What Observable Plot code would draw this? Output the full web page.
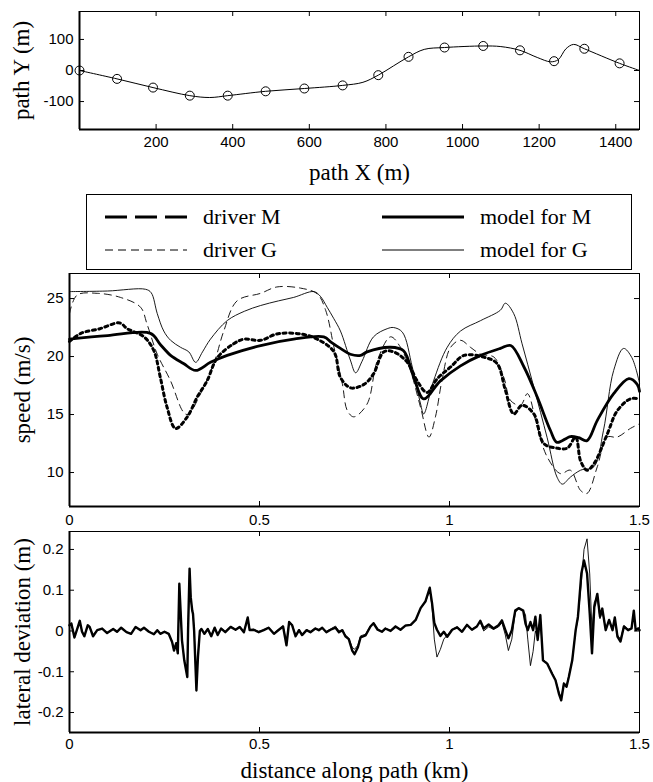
<!DOCTYPE html>
<html><head><meta charset="utf-8">
<script src="https://cdn.jsdelivr.net/npm/d3@7"></script>
<script src="https://cdn.jsdelivr.net/npm/@observablehq/plot@0.6"></script>
<style>
body{margin:0;background:#fff;}
#chart{position:relative;width:653px;height:782px;overflow:hidden;background:#fff;}
#chart svg.panel{position:absolute;left:0;overflow:visible;background:transparent;}
#legend{position:absolute;left:86px;top:194px;width:546px;height:76px;border:1px solid #000;box-sizing:border-box;font-family:'Liberation Serif','Times New Roman',serif;font-size:22px;}
#legend .item{position:absolute;display:flex;align-items:center;height:26px;}
#legend svg{display:block;}
</style></head><body><div id="chart"><div id="legend"></div></div>
<script>
// ---- top panel: path geometry ----
const pathX = [0, 98, 192, 288, 340, 387, 486, 587, 687, 740, 780, 820, 859, 900, 953, 1054, 1100, 1150, 1195, 1230, 1250, 1270, 1290, 1318, 1410, 1462];
const pathY = [0, -27, -55, -81, -87, -81, -67, -58, -48, -38, -15, 15, 44, 68, 74, 79, 77, 65, 42, 28, 35, 70, 84, 70, 23, 0];
const markX = [0, 98, 192, 288, 387, 486, 587, 687, 780, 859, 953, 1054, 1150, 1239, 1318, 1410];
const markY = [0, -27, -55, -81, -81, -67, -58, -48, -15, 44, 74, 79, 65, 30, 70, 23];
const pathXTicks = [200, 400, 600, 800, 1000, 1200, 1400];
const pathYTicks = [-100, 0, 100];

// ---- middle panel: speed ----
const distTicks = [0, 0.5, 1, 1.5];
const speedTicks = [10, 15, 20, 25];
const driverMX = [0, 0.03, 0.08, 0.132, 0.152, 0.196, 0.222, 0.239, 0.257, 0.279, 0.31, 0.336, 0.362, 0.389, 0.432, 0.459, 0.503, 0.546, 0.608, 0.652, 0.696, 0.713, 0.74, 0.775, 0.80, 0.827, 0.853, 0.889, 0.915, 0.941, 0.968, 1.003, 1.038, 1.09, 1.125, 1.147, 1.169, 1.191, 1.222, 1.248, 1.283, 1.31, 1.332, 1.345, 1.362, 1.38, 1.415, 1.441, 1.476, 1.5];
const driverMV = [21.3, 22.0, 22.4, 22.9, 22.4, 21.7, 20.5, 18.2, 15.6, 13.8, 14.8, 16.5, 17.9, 19.9, 21.1, 21.5, 21.4, 21.95, 21.95, 21.5, 20.4, 18.2, 17.3, 17.6, 18.5, 20.4, 20.4, 19.5, 17.9, 16.9, 18.1, 19.1, 20.1, 19.95, 19.4, 17.1, 15.05, 15.8, 15.05, 12.5, 12.1, 12.1, 13.05, 11.0, 10.2, 10.75, 13.3, 15.3, 16.35, 16.35];
const driverGX = [0, 0.02, 0.073, 0.134, 0.187, 0.204, 0.231, 0.266, 0.30, 0.312, 0.345, 0.38, 0.406, 0.441, 0.503, 0.546, 0.608, 0.652, 0.674, 0.696, 0.718, 0.731, 0.748, 0.783, 0.81, 0.845, 0.871, 0.897, 0.924, 0.946, 0.963, 0.98, 1.003, 1.029, 1.055, 1.082, 1.117, 1.143, 1.161, 1.187, 1.205, 1.231, 1.257, 1.292, 1.318, 1.345, 1.362, 1.389, 1.415, 1.441, 1.476, 1.5];
const driverGV = [23.7, 25.3, 25.45, 25.1, 24.25, 22.8, 20.2, 17.9, 15.2, 15.0, 16.8, 19.4, 22.2, 24.8, 25.45, 26.0, 25.9, 25.4, 24.0, 20.8, 17.65, 15.35, 14.8, 15.9, 19.65, 21.7, 20.8, 18.8, 15.6, 13.05, 14.8, 17.9, 20.8, 21.4, 20.8, 20.2, 19.95, 18.2, 16.2, 15.8, 16.8, 13.9, 11.35, 9.9, 10.2, 8.45, 8.2, 10.5, 13.05, 13.05, 13.8, 14.2];
const modelMX = [0, 0.1, 0.213, 0.24, 0.266, 0.30, 0.332, 0.371, 0.415, 0.503, 0.59, 0.669, 0.69, 0.713, 0.739, 0.766, 0.783, 0.845, 0.879, 0.906, 0.932, 0.976, 1.029, 1.082, 1.134, 1.161, 1.196, 1.231, 1.266, 1.283, 1.318, 1.34, 1.362, 1.389, 1.432, 1.472, 1.494, 1.5];
const modelMV = [21.5, 21.8, 22.0, 21.0, 20.1, 19.4, 18.8, 19.5, 20.1, 20.95, 21.5, 21.7, 21.2, 20.7, 20.2, 20.1, 20.4, 20.8, 20.5, 18.2, 16.35, 17.9, 19.2, 20.1, 20.7, 20.95, 19.1, 16.5, 13.6, 12.6, 13.1, 13.0, 12.75, 14.5, 16.8, 18.1, 17.6, 17.0];
const modelGX = [0, 0.1, 0.2, 0.215, 0.231, 0.248, 0.266, 0.292, 0.314, 0.332, 0.35, 0.371, 0.415, 0.46, 0.503, 0.55, 0.59, 0.643, 0.66, 0.678, 0.695, 0.713, 0.739, 0.753, 0.77, 0.80, 0.836, 0.853, 0.876, 0.902, 0.924, 0.932, 0.958, 0.994, 1.029, 1.082, 1.134, 1.147, 1.169, 1.191, 1.222, 1.257, 1.283, 1.297, 1.318, 1.345, 1.38, 1.405, 1.432, 1.458, 1.48, 1.5];
const modelGV = [25.6, 25.65, 25.8, 25.5, 23.7, 22.2, 21.4, 20.8, 20.4, 19.5, 20.4, 21.5, 23.1, 23.9, 24.4, 24.8, 25.1, 25.6, 25.2, 24.25, 23.3, 22.2, 19.7, 18.6, 19.6, 21.7, 22.4, 22.5, 22.1, 19.1, 15.9, 15.05, 17.9, 20.8, 22.2, 23.1, 24.0, 24.6, 23.7, 21.1, 17.35, 13.0, 9.6, 9.0, 9.6, 10.2, 10.5, 13.6, 18.8, 20.7, 19.9, 17.7];
const legendLabels = ["driver M", "driver G", "model for M", "model for G"];

// ---- bottom panel: lateral deviation ----
const latTicks = [-0.2, -0.1, 0, 0.1, 0.2];
const latX = [0, 0.005, 0.013, 0.022, 0.027, 0.033, 0.039, 0.048, 0.053, 0.062, 0.073, 0.086, 0.099, 0.115, 0.125, 0.136, 0.150, 0.162, 0.174, 0.187, 0.196, 0.209, 0.222, 0.231, 0.239, 0.25, 0.261, 0.27, 0.275, 0.281, 0.285, 0.289, 0.296, 0.302, 0.31, 0.312, 0.316, 0.319, 0.323, 0.325, 0.328, 0.334, 0.338, 0.343, 0.347, 0.355, 0.364, 0.373, 0.382, 0.39, 0.399, 0.41, 0.424, 0.437, 0.448, 0.459, 0.469, 0.474, 0.485, 0.498, 0.511, 0.524, 0.538, 0.551, 0.562, 0.571, 0.578, 0.586, 0.595, 0.604, 0.612, 0.624, 0.634, 0.647, 0.656, 0.665, 0.676, 0.687, 0.7, 0.709, 0.718, 0.726, 0.735, 0.744, 0.75, 0.759, 0.766, 0.779, 0.792, 0.8, 0.811, 0.822, 0.831, 0.845, 0.858, 0.871, 0.884, 0.898, 0.911, 0.924, 0.937, 0.948, 0.954, 0.96, 0.967, 0.976, 0.985, 0.994, 1.007, 1.02, 1.033, 1.046, 1.059, 1.072, 1.081, 1.09, 1.103, 1.116, 1.129, 1.138, 1.147, 1.155, 1.164, 1.173, 1.182, 1.194, 1.2, 1.206, 1.213, 1.22, 1.226, 1.232, 1.239, 1.246, 1.257, 1.27, 1.279, 1.288, 1.294, 1.301, 1.308, 1.314, 1.323, 1.332, 1.338, 1.347, 1.354, 1.362, 1.369, 1.375, 1.381, 1.389, 1.396, 1.402, 1.411, 1.42, 1.429, 1.435, 1.442, 1.45, 1.459, 1.47, 1.479, 1.485, 1.49, 1.497, 1.5];
const latM = [0.014, 0.018, -0.016, 0.01, 0.025, -0.002, -0.013, 0.014, 0.01, -0.013, 0.002, 0.006, -0.005, 0.005, -0.002, 0.008, -0.003, -0.007, 0.01, 0.002, 0.008, -0.002, -0.008, 0.002, -0.007, -0.002, -0.007, -0.027, -0.048, -0.03, -0.055, 0.116, -0.023, -0.072, -0.113, 0.001, 0.153, 0.083, 0.05, 0.042, 0, -0.146, -0.064, 0, 0.005, -0.007, 0.005, -0.013, 0.008, -0.01, 0.006, -0.003, 0.01, 0.003, 0.01, -0.003, 0.033, 0.002, 0.003, -0.003, 0.002, 0.008, -0.007, 0.003, 0.011, -0.035, 0.022, 0.014, -0.013, 0.002, -0.01, 0.002, -0.003, 0.006, 0.002, 0.008, -0.003, 0.003, 0.008, -0.003, 0.002, -0.013, -0.02, -0.048, -0.057, -0.04, -0.016, -0.011, 0.011, 0.019, 0.003, -0.002, 0.006, 0, 0.011, 0.003, 0.013, 0.015, 0.027, 0.056, 0.073, 0.106, 0.069, 0.02, 0.003, -0.012, -0.002, -0.014, 0.003, 0.009, -0.002, 0.015, 0.003, 0.011, 0.025, 0.006, 0.016, 0.006, 0.014, 0.026, 0.002, -0.018, 0.002, 0.05, 0.056, 0.05, 0.018, 0.002, 0.022, 0.002, 0.035, -0.022, 0.039, -0.072, -0.08, -0.105, -0.121, -0.154, -0.17, -0.129, -0.137, -0.113, -0.072, 0.002, 0.035, 0.141, 0.173, 0.141, 0.043, -0.055, 0.058, 0.091, 0.035, 0.055, 0.002, 0.027, 0.002, 0.033, -0.014, -0.026, 0.011, 0.002, 0.006, 0.05, 0.002, 0.006, 0.002];
const latG = [0.012, 0.02, -0.014, 0.008, 0.022, 0.0, -0.011, 0.012, 0.011, -0.011, 0.003, 0.005, -0.004, 0.006, -0.001, 0.007, -0.002, -0.006, 0.009, 0.003, 0.007, -0.001, -0.007, 0.003, -0.006, -0.001, -0.006, -0.025, -0.045, -0.028, -0.052, 0.11, -0.02, -0.07, -0.11, 0.003, 0.148, 0.08, 0.048, 0.04, 0.002, -0.14, -0.06, 0.002, 0.006, -0.005, 0.006, -0.011, 0.009, -0.008, 0.007, -0.001, 0.011, 0.004, 0.011, -0.001, 0.03, 0.004, 0.004, -0.001, 0.003, 0.009, -0.005, 0.004, 0.013, -0.03, 0.024, 0.016, -0.011, 0.004, -0.008, 0.003, -0.001, 0.007, 0.003, 0.009, -0.001, 0.005, 0.012, 0.0, 0.003, -0.01, -0.018, -0.04, -0.045, -0.035, -0.012, -0.008, 0.013, 0.021, 0.005, 0.0, 0.007, 0.002, 0.012, 0.004, 0.014, 0.016, 0.028, 0.055, 0.072, 0.1, 0.06, -0.02, -0.064, -0.045, -0.02, -0.01, 0.004, 0.01, 0.0, 0.016, 0.005, 0.012, 0.022, 0.0, 0.01, 0.004, 0.01, 0.02, -0.01, -0.048, -0.02, 0.045, 0.055, 0.05, 0.04, -0.02, -0.085, -0.05, 0.0, -0.015, 0.035, -0.07, -0.078, -0.103, -0.12, -0.15, -0.165, -0.127, -0.134, -0.11, -0.07, 0.0, 0.03, 0.12, 0.2, 0.226, 0.14, 0.0, 0.07, 0.085, 0.03, 0.05, 0.004, 0.025, 0.006, 0.03, -0.01, -0.02, 0.013, 0.004, 0.008, 0.045, 0.004, 0.008, 0.004];

const SANS = "'Liberation Sans', Arial, Helvetica, sans-serif";
const SERIF = "'Liberation Serif', 'Times New Roman', Times, serif";
const zip = (xs, ys) => xs.map((x, i) => ({x, y: ys[i]}));

// MATLAB-style boxed axes with inward ticks on all four sides
function boxMarks(xTicks, yTicks, xMin, yMin, W, H) {
  const t = 5;
  return [
    Plot.frame({stroke: "black", strokeWidth: 1}),
    Plot.ruleX(xTicks, {insetTop: H - t, stroke: "black"}),
    Plot.ruleX(xTicks, {insetBottom: H - t, stroke: "black"}),
    Plot.ruleY(yTicks, {insetRight: W - t, stroke: "black"}),
    Plot.ruleY(yTicks, {insetLeft: W - t, stroke: "black"}),
    Plot.ruleX([xMin], {stroke: "black", strokeWidth: 2}),
    Plot.ruleY([yMin], {stroke: "black", strokeWidth: 2})
  ];
}
const fmt = d => String(d);
const style = {fontFamily: SANS, fontSize: "15px", color: "black", background: "transparent"};
const chart = document.getElementById("chart");
function place(svg, top) {
  svg.classList.add("panel");
  svg.style.top = top + "px";
  chart.appendChild(svg);
}
const yTitle = (t, dx) => Plot.text([t], {text: d => d, frameAnchor: "left", dx, rotate: -90, textAnchor: "middle", lineAnchor: "middle", fontFamily: SERIF, fontSize: 23});
const xTitle = (t, dy) => Plot.text([t], {text: d => d, frameAnchor: "bottom", dy, textAnchor: "middle", lineAnchor: "middle", fontFamily: SERIF, fontSize: 23});

// ---------- top panel ----------
{
  const xd = [0, 1462], yd = [-190, 190];
  const svg = Plot.plot({
    width: 653, height: 190,
    marginLeft: 79, marginRight: 14, marginTop: 11, marginBottom: 61,
    style,
    x: {domain: xd, label: null}, y: {domain: yd, label: null},
    marks: [
      ...boxMarks(pathXTicks, pathYTicks, xd[0], yd[0], 560, 118),
      Plot.line(zip(pathX, pathY), {x: "x", y: "y", curve: "catmull-rom", stroke: "black", strokeWidth: 1}),
      Plot.dot(zip(markX, markY), {x: "x", y: "y", r: 4.5, stroke: "black", fill: "none", strokeWidth: 1}),
      Plot.axisX(pathXTicks, {anchor: "bottom", label: null, tickSize: 0, tickPadding: 7, tickFormat: fmt}),
      Plot.axisY(pathYTicks, {anchor: "left", label: null, tickSize: 0, tickPadding: 6, tickFormat: fmt}),
      xTitle("path X (m)", 43),
      yTitle("path Y (m)", -58)
    ]
  });
  place(svg, 0);
}

// ---------- legend ----------
{
  const leg = document.getElementById("legend");
  const specs = [
    {left: 18, row: 0, dash: "22,8", w: 3},
    {left: 18, row: 1, dash: "8,5", w: 1},
    {left: 295, row: 0, dash: null, w: 3},
    {left: 295, row: 1, dash: null, w: 1.2}
  ];
  legendLabels.forEach((lab, i) => {
    const s = specs[i];
    const item = document.createElement("div");
    item.className = "item";
    item.style.left = s.left + "px";
    item.style.top = (s.row === 0 ? 9 : 42) + "px";
    const ns = "http://www.w3.org/2000/svg";
    const sv = document.createElementNS(ns, "svg");
    sv.setAttribute("width", 82); sv.setAttribute("height", 26);
    const ln = document.createElementNS(ns, "line");
    ln.setAttribute("x1", 0); ln.setAttribute("x2", 82);
    ln.setAttribute("y1", 13); ln.setAttribute("y2", 13);
    ln.setAttribute("stroke", "black"); ln.setAttribute("stroke-width", s.w);
    if (s.dash) ln.setAttribute("stroke-dasharray", s.dash);
    sv.appendChild(ln);
    const sp = document.createElement("span");
    sp.textContent = lab;
    sp.style.marginLeft = "16px";
    item.appendChild(sv); item.appendChild(sp);
    leg.appendChild(item);
  });
}

// ---------- middle panel ----------
{
  const xd = [0, 1.5], yd = [7.07, 27.16];
  const svg = Plot.plot({
    width: 653, height: 258,
    marginLeft: 69, marginRight: 14, marginTop: 3, marginBottom: 22,
    style,
    x: {domain: xd, label: null}, y: {domain: yd, label: null},
    marks: [
      ...boxMarks(distTicks, speedTicks, xd[0], yd[0], 570, 233),
      Plot.line(zip(driverGX, driverGV), {x: "x", y: "y", curve: "catmull-rom", stroke: "black", strokeWidth: 0.9, strokeDasharray: "7,5"}),
      Plot.line(zip(modelGX, modelGV), {x: "x", y: "y", curve: "catmull-rom", stroke: "black", strokeWidth: 0.9}),
      Plot.line(zip(driverMX, driverMV), {x: "x", y: "y", curve: "catmull-rom", stroke: "black", strokeWidth: 3, strokeDasharray: "3,3.5"}),
      Plot.line(zip(modelMX, modelMV), {x: "x", y: "y", curve: "catmull-rom", stroke: "black", strokeWidth: 2.8}),
      Plot.axisX(distTicks, {anchor: "bottom", label: null, tickSize: 0, tickPadding: 8, tickFormat: fmt}),
      Plot.axisY(speedTicks, {anchor: "left", label: null, tickSize: 0, tickPadding: 6, tickFormat: fmt}),
      yTitle("speed (m/s)", -47)
    ]
  });
  place(svg, 270);
}

// ---------- bottom panel ----------
{
  const xd = [0, 1.5], yd = [-0.249, 0.244];
  const svg = Plot.plot({
    width: 653, height: 254,
    marginLeft: 69, marginRight: 14, marginTop: 3, marginBottom: 50,
    style,
    x: {domain: xd, label: null}, y: {domain: yd, label: null},
    marks: [
      ...boxMarks(distTicks, latTicks, xd[0], yd[0], 570, 201),
      Plot.line(zip(latX, latG), {x: "x", y: "y", stroke: "black", strokeWidth: 0.9, strokeLinejoin: "round"}),
      Plot.line(zip(latX, latM), {x: "x", y: "y", stroke: "black", strokeWidth: 2.4, strokeLinejoin: "round"}),
      Plot.axisX(distTicks, {anchor: "bottom", label: null, tickSize: 0, tickPadding: 6, tickFormat: fmt}),
      Plot.axisY(latTicks, {anchor: "left", label: null, tickSize: 0, tickPadding: 6, tickFormat: fmt}),
      xTitle("distance along path (km)", 38),
      yTitle("lateral deviation (m)", -47)
    ]
  });
  place(svg, 528);
}
</script></body></html>
